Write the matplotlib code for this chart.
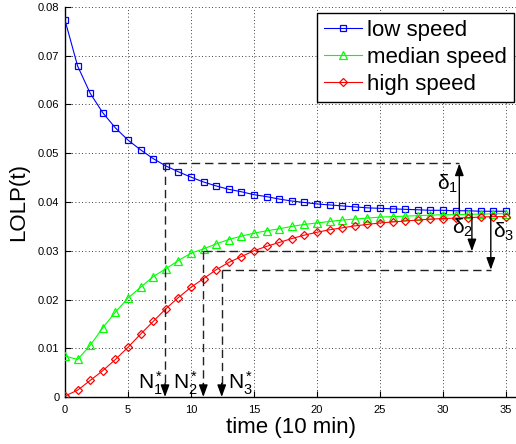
import numpy as np
import matplotlib
matplotlib.use("Agg")
import matplotlib.pyplot as plt

plt.rcParams['font.family'] = ['Liberation Sans', 'DejaVu Sans']
plt.rcParams['mathtext.fontset'] = 'custom'
plt.rcParams['mathtext.rm'] = 'Liberation Sans'
plt.rcParams['mathtext.it'] = 'Liberation Sans'
plt.rcParams['mathtext.bf'] = 'Liberation Sans:bold'

# ---------------- data ----------------
t = list(range(36))
low_speed = [0.0773, 0.0679, 0.0623, 0.0583, 0.0552, 0.0527, 0.0507, 0.0489, 0.0474, 0.0462,
             0.0451, 0.0441, 0.0433, 0.0426, 0.0421, 0.0415, 0.0411, 0.0406, 0.0402, 0.0399,
             0.0396, 0.0394, 0.0392, 0.0390, 0.0388, 0.0387, 0.0386, 0.0385, 0.0384, 0.0383,
             0.0383, 0.0382, 0.0382, 0.0381, 0.0381, 0.0381]
median_speed = [0.0084, 0.0077, 0.0106, 0.0142, 0.0174, 0.0203, 0.0225, 0.0247, 0.0263, 0.0280,
                0.0295, 0.0304, 0.0314, 0.0323, 0.0330, 0.0336, 0.0341, 0.0345, 0.0350, 0.0354,
                0.0357, 0.0360, 0.0363, 0.0365, 0.0367, 0.0369, 0.0370, 0.0371, 0.0372, 0.0373,
                0.0374, 0.0374, 0.0375, 0.0375, 0.0376, 0.0376]
high_speed = [0.0002, 0.0014, 0.0034, 0.0054, 0.0077, 0.0102, 0.0129, 0.0155, 0.0181, 0.0204,
              0.0225, 0.0243, 0.0261, 0.0276, 0.0288, 0.0300, 0.0309, 0.0317, 0.0325, 0.0332,
              0.0338, 0.0343, 0.0347, 0.0351, 0.0354, 0.0357, 0.0359, 0.0361, 0.0363, 0.0365,
              0.0366, 0.0367, 0.0368, 0.0369, 0.0370, 0.0370]
series_labels = ['low speed', 'median speed', 'high speed']

# annotation values: N* times, corresponding LOLP levels, delta arrow positions
N_star = [7.94, 10.98, 12.44]
N_level = [0.0479, 0.0299, 0.0261]
delta_t = [31.3, 32.3, 33.8]
delta_from = [0.0378, 0.0376, 0.0375]

xticks = [0, 5, 10, 15, 20, 25, 30, 35]
yticks = [0, 0.01, 0.02, 0.03, 0.04, 0.05, 0.06, 0.07, 0.08]
ytick_labels = ['0', '0.01', '0.02', '0.03', '0.04', '0.05', '0.06', '0.07', '0.08']

# ---------------- figure ----------------
W, H = 516, 444
fig = plt.figure(figsize=(W / 100, H / 100), dpi=100)
ax = fig.add_axes([65 / W, (H - 397) / H, (516 - 65) / W, 390 / H])

ax.plot(t, low_speed, color='#0000FF', lw=0.8, marker='s', ms=4.4, mfc='none',
        mec='#0000FF', mew=0.9, label=series_labels[0], zorder=3)
ax.plot(t, median_speed, color='#00FF00', lw=0.8, marker='^', ms=5.2, mfc='none',
        mec='#00FF00', mew=0.9, label=series_labels[1], zorder=3)
ax.plot(t, high_speed, color='#FF0000', lw=0.8, marker='D', ms=4.0, mfc='none',
        mec='#FF0000', mew=0.9, label=series_labels[2], zorder=3)

ax.set_xlim(0, 35.8)
ax.set_ylim(0, 0.08)
ax.set_xticks(xticks)
ax.set_yticks(yticks)
ax.set_yticklabels(ytick_labels)
ax.tick_params(direction='in', length=4, width=0.8, labelsize=8, colors='k', pad=4)
ax.tick_params(axis='x', pad=6)
ax.grid(True, color='k', linestyle=(0, (1, 3)), lw=0.6)
for s in ['top', 'right']:
    ax.spines[s].set_visible(False)
for s in ['left', 'bottom']:
    ax.spines[s].set_linewidth(1.0)
ax.set_axisbelow(False)

ax.set_xlabel('time (10 min)', fontsize=16, labelpad=1)
ax.set_ylabel('LOLP(t)', fontsize=16, labelpad=6)

leg = ax.legend(loc='upper right', bbox_to_anchor=(0.995, 0.985), fontsize=16,
                frameon=True, fancybox=False, edgecolor='k', framealpha=1,
                handlelength=1.7, handletextpad=0.25, borderpad=0.3,
                labelspacing=0.28, borderaxespad=0)
leg.get_frame().set_linewidth(1.0)

dash = (0, (6, 3.5))
dcol = '#222222'
head = dict(arrowstyle='-|>,head_length=0.6,head_width=0.22', color='k', lw=1.0,
            shrinkA=0, shrinkB=0, mutation_scale=12)

for i in range(3):
    # horizontal dashed line from N* point to delta arrow
    ax.plot([N_star[i], delta_t[i]], [N_level[i], N_level[i]], linestyle=dash,
            color=dcol, lw=1.0, zorder=4)
    # vertical dashed line down to the time axis
    ax.plot([N_star[i], N_star[i]], [N_level[i], 0.002], linestyle=dash,
            color=dcol, lw=1.0, zorder=4)
    ax.annotate('', xy=(N_star[i], 0.0), xytext=(N_star[i], 0.0028),
                arrowprops=head, zorder=5)
    # delta arrow
    ax.annotate('', xy=(delta_t[i], N_level[i]), xytext=(delta_t[i], delta_from[i]),
                arrowprops=dict(head), zorder=5)

# N* labels
ax.text(5.8, 0.0016, r'N$_1^*$', fontsize=15, ha='left', va='baseline')
ax.text(8.57, 0.0016, r'N$_2^*$', fontsize=15, ha='left', va='baseline')
ax.text(12.9, 0.0016, r'N$_3^*$', fontsize=15, ha='left', va='baseline')

# delta labels
ax.text(29.5, 0.0425, 'δ$_1$', fontsize=15, ha='left', va='baseline')
ax.text(30.7, 0.0336, 'δ$_2$', fontsize=15, ha='left', va='baseline')
ax.text(34.0, 0.0326, 'δ$_3$', fontsize=15, ha='left', va='baseline')

fig.savefig('out.png', dpi=100)
